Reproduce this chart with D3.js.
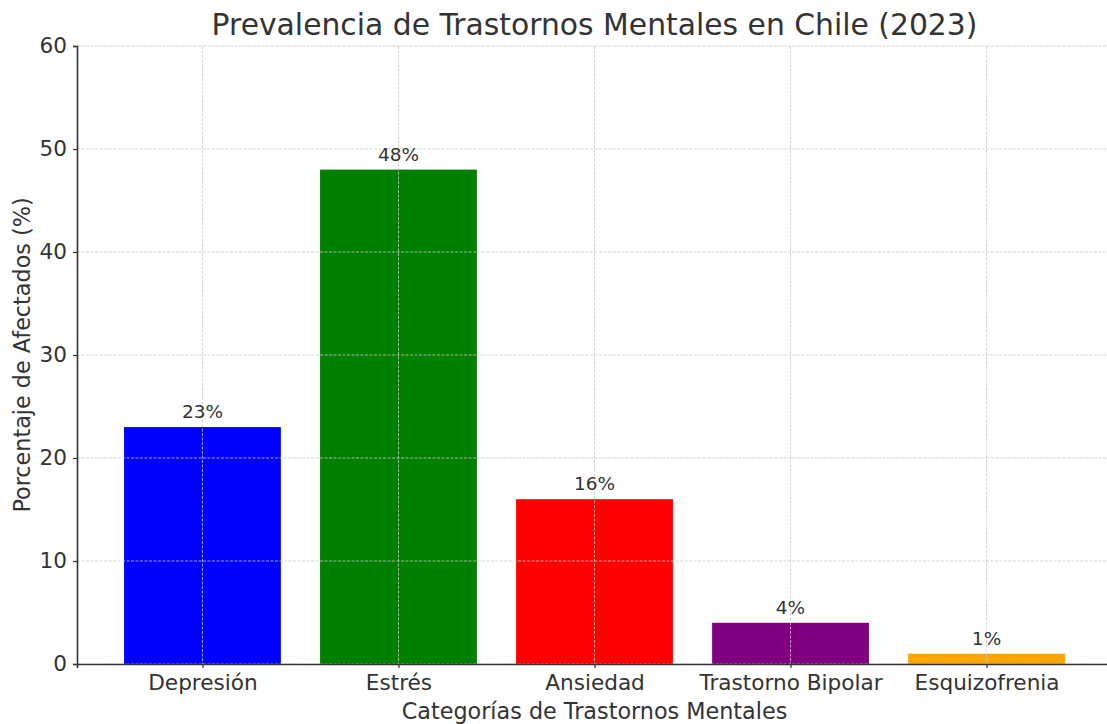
<!DOCTYPE html>
<html>
<head>
<meta charset="utf-8">
<script src="https://cdn.jsdelivr.net/npm/d3@7"></script>
<style>
  body { margin: 0; background: #fff; }
  text { font-family: "DejaVu Sans", sans-serif; fill: #333; }
</style>
</head>
<body>
<script>
// data
var categories = ["Depresión", "Estrés", "Ansiedad", "Trastorno Bipolar", "Esquizofrenia"];
var values = [23, 48, 16, 4, 1];
var barColors = ["#0000ff", "#008000", "#ff0000", "#800080", "#ffa500"];
var yTicks = [0, 10, 20, 30, 40, 50, 60];

// set the dimensions and margins of the graph
var margin = {top: 46, right: -5, bottom: 60, left: 77},
    width = 1107 - margin.left - margin.right,
    height = 724 - margin.top - margin.bottom;

var svg = d3.select("body").append("svg")
    .attr("width", 1107)
    .attr("height", 724);

var g = svg.append("g")
    .attr("transform", "translate(" + margin.left + "," + margin.top + ")");

// x: matplotlib-like limits, bar width 0.8 with 5% margins
var x = d3.scaleLinear()
    .domain([-0.64, categories.length - 1 + 0.64])
    .range([0, width]);
var y = d3.scaleLinear()
    .domain([0, 60])
    .range([height, 0]);

// bars
g.selectAll(".bar")
    .data(values)
  .enter().append("rect")
    .attr("class", "bar")
    .attr("x", function(d, i) { return x(i - 0.4); })
    .attr("width", x(0.4) - x(-0.4))
    .attr("y", function(d) { return y(d); })
    .attr("height", function(d) { return height - y(d); })
    .attr("fill", function(d, i) { return barColors[i]; });

// grid, drawn over the bars
var grid = g.append("g").attr("class", "grid");
grid.selectAll(".hg")
    .data(yTicks)
  .enter().append("line")
    .attr("x1", 0).attr("x2", width)
    .attr("y1", function(d) { return y(d); })
    .attr("y2", function(d) { return y(d); });
grid.selectAll(".vg")
    .data(categories)
  .enter().append("line")
    .attr("x1", function(d, i) { return x(i); })
    .attr("x2", function(d, i) { return x(i); })
    .attr("y1", 0).attr("y2", height);
grid.selectAll("line")
    .attr("stroke", "#c8c8c8")
    .attr("stroke-width", 0.8)
    .attr("stroke-dasharray", "3,1.5");

// value labels
g.selectAll(".val")
    .data(values)
  .enter().append("text")
    .attr("x", function(d, i) { return x(i); })
    .attr("y", function(d) { return y(d) - 9; })
    .attr("text-anchor", "middle")
    .style("font-size", "18.5px")
    .text(function(d) { return d + "%"; });

// x axis
var xAxis = g.append("g")
    .attr("transform", "translate(0," + height + ")")
    .call(d3.axisBottom(x)
      .tickValues(d3.range(categories.length))
      .tickFormat(function(i) { return categories[i]; })
      .tickSize(4).tickPadding(5));
xAxis.selectAll("text").style("font-size", "21.6px").attr("dy", "0.8em");

// y axis
var yAxis = g.append("g")
    .call(d3.axisLeft(y).tickValues(yTicks).tickSize(4).tickPadding(6));
yAxis.selectAll("text").style("font-size", "21.6px");

[xAxis, yAxis].forEach(function(a) {
  a.select(".domain").attr("stroke", "#333").attr("stroke-width", 1.6);
  a.selectAll(".tick line").attr("stroke", "#333").attr("stroke-width", 1.2);
});

// title and axis labels
svg.append("text")
    .attr("x", margin.left + x((categories.length - 1) / 2))
    .attr("y", 35)
    .attr("text-anchor", "middle")
    .style("font-size", "29.8px")
    .text("Prevalencia de Trastornos Mentales en Chile (2023)");

svg.append("text")
    .attr("x", margin.left + x((categories.length - 1) / 2))
    .attr("y", 719)
    .attr("text-anchor", "middle")
    .style("font-size", "22.3px")
    .text("Categorías de Trastornos Mentales");

svg.append("text")
    .attr("transform", "translate(30," + (margin.top + height / 2) + ") rotate(-90)")
    .attr("text-anchor", "middle")
    .style("font-size", "22.3px")
    .text("Porcentaje de Afectados (%)");
</script>
</body>
</html>
